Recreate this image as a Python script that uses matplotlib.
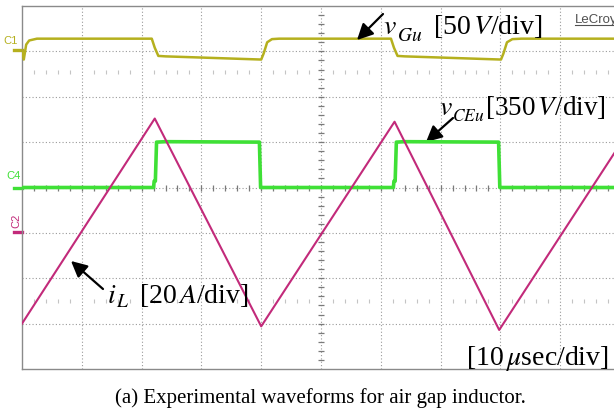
import numpy as np
import matplotlib
matplotlib.use("Agg")
import matplotlib.pyplot as plt

plt.rcParams['mathtext.fontset'] = 'stix'
plt.rcParams['font.family'] = ['Liberation Serif', 'DejaVu Serif']

# ---- data (time in divisions, amplitude in divisions) ----
vgu_t = [0.0, 0.03, 0.07, 0.12, 0.25, 2.17, 2.22, 2.28, 2.4, 4.0, 4.04, 4.1, 4.18, 4.3,
         6.17, 6.22, 6.28, 6.4, 8.01, 8.05, 8.11, 8.2, 8.35, 10.0]
vgu_v = [3.02, 2.82, 3.15, 3.24, 3.28, 3.28, 3.08, 2.90, 2.89, 2.82, 2.95, 3.20, 3.27, 3.28,
         3.28, 3.08, 2.90, 2.89, 2.82, 2.95, 3.20, 3.27, 3.28, 3.28]

vce_t = [0.0, 2.20, 2.21, 2.23, 2.25, 2.4, 3.97, 3.99, 6.21, 6.22, 6.24, 6.26, 6.4, 7.97, 7.99, 10.0]
vce_v = [0.0, 0.0, 0.14, 0.14, 1.0, 1.01, 1.0, 0.0, 0.0, 0.14, 0.14, 1.0, 1.01, 1.0, 0.0, 0.0]

il_t = [0.0, 2.22, 4.0, 6.23, 7.98, 10.0]
il_v = [-3.0, 1.52, -3.06, 1.45, -3.14, 0.95]

ch_labels = ['C1', 'C4', 'C2']
ch_offsets = [3.02, 0.0, -0.97]

YEL = '#b5b01e'
GRN = '#3fe036'
MAG = '#c22a7a'
GRID = '#9a9a9a'

W, H = 614, 410
fig = plt.figure(figsize=(W / 100, H / 100), dpi=100)
ax = fig.add_axes([22 / W, 40 / H, 598 / W, 363 / H])
ax.set_xlim(0, 10)
ax.set_ylim(-4, 4)
ax.set_xticks([])
ax.set_yticks([])
for s in ['left', 'top', 'bottom']:
    ax.spines[s].set_color('#8a8a8a')
    ax.spines[s].set_linewidth(1.0)
ax.spines['right'].set_visible(False)

# grid
for gx in range(1, 10):
    ax.axvline(gx, color=GRID, lw=0.8, ls=(0, (1, 2)), zorder=1)
for gy in range(-3, 4):
    ax.axhline(gy, color=GRID, lw=0.8, ls=(0, (1, 2)), zorder=1)

# center-line ticks
tx = np.arange(0.2, 10, 0.2)
ax.plot(tx, np.zeros_like(tx), ls='none', marker='|', ms=5, mew=0.9, color='#7a7a7a', zorder=1.5)
ty = np.arange(-3.8, 4, 0.2)
ax.plot(np.full_like(ty, 5.0), ty, ls='none', marker='_', ms=5, mew=0.9, color='#7a7a7a', zorder=1.5)

# faint dotted rows
dx = np.array([v for v in np.arange(0.2, 10, 0.2) if abs(v - round(v)) > 0.05])
for yy in (2.55, -2.5):
    ax.plot(dx, np.full_like(dx, yy), ls='none', marker='|', ms=3, mew=0.8, color='#c4c4c4', zorder=1)

# traces
ax.plot(vgu_t, vgu_v, color=YEL, lw=1.8, zorder=3)
ax.plot(vce_t, vce_v, color=GRN, lw=2.6, zorder=4)
ax.plot(il_t, il_v, color=MAG, lw=1.5, zorder=5)

# channel markers
cols = [YEL, GRN, MAG]
for lab, off, c in zip(ch_labels, ch_offsets, cols):
    ax.plot([-0.14, 0], [off, off], color=c, lw=2.4, clip_on=False)
ax.text(-0.19, ch_offsets[0] + 0.22, ch_labels[0], color=YEL, fontsize=8,
        family='Liberation Sans', ha='center', va='center')
ax.text(-0.14, ch_offsets[1] + 0.27, ch_labels[1], color=GRN, fontsize=8,
        family='Liberation Sans', ha='center', va='center')
ax.text(-0.09, ch_offsets[2] + 0.25, ch_labels[2], color=MAG, fontsize=8,
        family='Liberation Sans', ha='center', va='center', rotation=90)


def fp(x, y):
    return (x, H - y)


arrow = dict(arrowstyle='-|>', color='black', lw=1.6, mutation_scale=24, shrinkA=0, shrinkB=0)
ax.annotate('', xy=fp(357, 41), xytext=fp(383, 15), xycoords='figure pixels',
            textcoords='figure pixels', arrowprops=arrow)
ax.annotate('', xy=fp(426, 143), xytext=fp(453, 119), xycoords='figure pixels',
            textcoords='figure pixels', arrowprops=arrow)
ax.annotate('', xy=fp(71, 262), xytext=fp(103, 290), xycoords='figure pixels',
            textcoords='figure pixels', arrowprops=arrow)

FS = 20


def label(x, y, sym, sub, subx, suby, subfs, rest, restx, restfs=FS):
    fig.text(x / W, (H - y) / H, sym, fontsize=FS, ha='left', va='baseline')
    fig.text(subx / W, (H - suby) / H, sub, fontsize=subfs, ha='left', va='baseline')
    fig.text(restx / W, (H - y) / H, rest, fontsize=restfs, ha='left', va='baseline')


label(383, 34, r'$v$', r'$Gu$', 397, 41, 14, r'[50$\,V$/div]', 433)
label(439, 115, r'$v$', r'$CEu$', 452, 121, 12.5, r'[350$\,V$/div]', 485, 19.5)
label(107, 303, r'$i$', r'$L$', 116, 307, 14, r'[20$\,A$/div]', 139)
fig.text(609 / W, (H - 365) / H, r'[10$\,\mu$sec/div]', fontsize=FS, ha='right', va='baseline')

# LeCroy logo (cut by the right edge, as in the screenshot)
fig.text(575 / W, (H - 23) / H, 'LeCroy', fontsize=9.5, color='#505050',
         family='Liberation Sans', ha='left', va='baseline')
fig.add_artist(plt.Line2D([575 / W, 1.0], [(H - 26) / H] * 2, color='#505050', lw=0.8))

# caption
fig.text(320 / W, (H - 403) / H, '(a) Experimental waveforms for air gap inductor.',
         fontsize=15, ha='center', va='baseline')

fig.savefig('out.png', dpi=100)
